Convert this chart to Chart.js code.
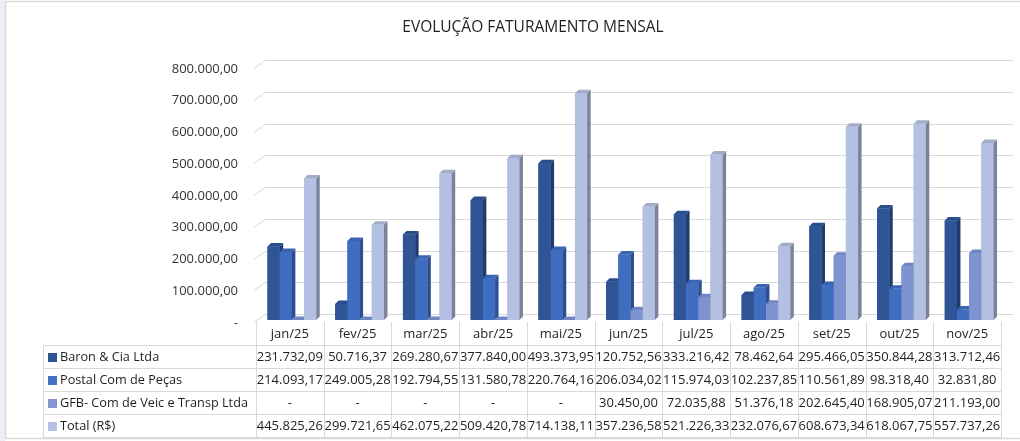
<!DOCTYPE html>
<html><head><meta charset="utf-8">
<script src="https://cdn.jsdelivr.net/npm/chart.js@4"></script>
<style>html,body{margin:0;padding:0;background:#fff;overflow:hidden}#wrap{position:relative;width:1020px;height:441px}</style>
</head><body><div id="wrap"><canvas id="c" width="1020" height="441"></canvas></div>
<script>
const title = 'EVOLUÇÃO FATURAMENTO MENSAL';
const categories = ['jan/25','fev/25','mar/25','abr/25','mai/25','jun/25','jul/25','ago/25','set/25','out/25','nov/25'];
const seriesNames = ['Baron & Cia Ltda','Postal Com de Peças','GFB- Com de Veic e Transp Ltda','Total (R$)'];
const baron  = [231732.09, 50716.37, 269280.67, 377840.00, 493373.95, 120752.56, 333216.42, 78462.64, 295466.05, 350844.28, 313712.46];
const postal = [214093.17, 249005.28, 192794.55, 131580.78, 220764.16, 206034.02, 115974.03, 102237.85, 110561.89, 98318.40, 32831.80];
const gfb    = [0, 0, 0, 0, 0, 30450.00, 72035.88, 51376.18, 202645.40, 168905.07, 211193.00];
const total  = [445825.26, 299721.65, 462075.22, 509420.78, 714138.11, 357236.58, 521226.33, 232076.67, 608673.34, 618067.75, 557737.26];
const yTicks = [0, 100000, 200000, 300000, 400000, 500000, 600000, 700000, 800000];

const faceColors = [
  {front:'#2F5597', side:'#1F3A6C', top:'#2A4D8C'},
  {front:'#3F6DC0', side:'#2B4F90', top:'#3A64B2'},
  {front:'#7E94D1', side:'#5A6EA3', top:'#7086C2'},
  {front:'#B3C0E1', side:'#7A8399', top:'#A2ADCA'}
];
const legendColors = ['#2F5597','#4472C4','#8497D3','#B4C1E2'];

function fmt(v){
  if(!v) return '-';
  const s = v.toFixed(2);
  let [i,d] = s.split('.');
  i = i.replace(/\B(?=(\d{3})+(?!\d))/g,'.');
  return i + ',' + d;
}

const FONT = '"Open Sans", "Liberation Sans", sans-serif';
const DX = 3.5, DY = 3.5;

const framePlugin = {
  id:'frame',
  beforeDraw(chart){
    const c = chart.ctx;
    c.save();
    c.fillStyle = '#fff'; c.fillRect(0,0,chart.width,chart.height);
    c.fillStyle = '#EEEEF6'; c.fillRect(0,0,5,chart.height);
    c.strokeStyle = '#D9D9D9'; c.lineWidth = 1.5;
    c.beginPath();
    c.moveTo(1020,1.5); c.lineTo(5.5,1.5); c.lineTo(5.5,438.5); c.lineTo(1020,438.5);
    c.stroke();
    c.restore();
  },
  beforeDatasetsDraw(chart){
    const c = chart.ctx, ys = chart.scales.y, a = chart.chartArea;
    c.save();
    c.strokeStyle = '#D9D9D9'; c.lineWidth = 1;
    yTicks.forEach(v => {
      const y = Math.round(ys.getPixelForValue(v)) + 0.5;
      c.beginPath();
      c.moveTo(a.left - 4, y + 2);
      c.lineTo(a.left + 7, y - 6);
      c.lineTo(1013, y - 6);
      c.stroke();
    });
    c.restore();
  },
  afterDatasetsDraw(chart){
    const c = chart.ctx;
    c.save();
    for (let i = 0; i < categories.length; i++) {
      for (let d = 0; d < chart.data.datasets.length; d++) {
        const el = chart.getDatasetMeta(d).data[i];
        if (!el) continue;
        const w = el.width, L = el.x - w/2, R = el.x + w/2, T = el.y, B = el.base;
        const col = faceColors[d];
        c.fillStyle = col.front;
        c.fillRect(L, T, w, B - T);
        c.fillStyle = col.side;
        c.beginPath();
        c.moveTo(R, T); c.lineTo(R + DX, T - DY); c.lineTo(R + DX, B - DY); c.lineTo(R, B); c.closePath();
        c.fill();
        c.fillStyle = col.top;
        c.beginPath();
        c.moveTo(L, T); c.lineTo(L + DX, T - DY); c.lineTo(R + DX, T - DY); c.lineTo(R, T); c.closePath();
        c.fill();
      }
    }
    c.restore();
  },
  afterDraw(chart){
    const c = chart.ctx, xs = chart.scales.x;
    c.save();
    c.fillStyle = '#1F1F1F';
    c.font = '15.5px ' + FONT;
    c.textAlign = 'center'; c.textBaseline = 'middle';
    c.fillText(title, 533, 28);
    const n = categories.length;
    const colW = xs.width / n;
    const x0 = xs.left - 2;
    const tLeft = 43;
    const headTop = 322;
    const rows = [345, 368, 391, 414, 437];
    const xEnd = x0 + colW * n;
    c.strokeStyle = '#D9D9D9'; c.lineWidth = 1;
    c.beginPath();
    for (let k = 0; k <= n; k++) {
      const x = Math.round(x0 + k * colW) + 0.5;
      c.moveTo(x, headTop); c.lineTo(x, rows[rows.length-1]);
    }
    c.moveTo(tLeft + 0.5, rows[0]); c.lineTo(tLeft + 0.5, rows[rows.length-1]);
    rows.forEach(y => { c.moveTo(tLeft, y + 0.5); c.lineTo(xEnd + 1, y + 0.5); });
    c.stroke();
    c.font = '13px ' + FONT;
    c.fillStyle = '#1F1F1F';
    c.textAlign = 'center'; c.textBaseline = 'middle';
    categories.forEach((cat, k) => c.fillText(cat, x0 + (k + 0.5) * colW, (headTop + rows[0]) / 2 + 1));
    const series = [baron, postal, gfb, total];
    series.forEach((arr, r) => {
      const ym = (rows[r] + rows[r+1]) / 2 + 1;
      c.fillStyle = legendColors[r];
      c.fillRect(48, Math.round(ym - 5), 9, 9);
      c.fillStyle = '#1F1F1F';
      c.textAlign = 'left';
      c.font = '12.7px ' + FONT;
      c.fillText(seriesNames[r], 60, ym);
      c.font = '13px ' + FONT;
      c.textAlign = 'center';
      arr.forEach((v, k) => c.fillText(fmt(v), x0 + (k + 0.5) * colW, ym));
    });
    c.restore();
  }
};

new Chart(document.getElementById('c'), {
  type: 'bar',
  data: {
    labels: categories,
    datasets: [
      {label: seriesNames[0], data: baron,  backgroundColor: faceColors[0].front},
      {label: seriesNames[1], data: postal, backgroundColor: faceColors[1].front},
      {label: seriesNames[2], data: gfb,    backgroundColor: faceColors[2].front},
      {label: seriesNames[3], data: total,  backgroundColor: faceColors[3].front}
    ]
  },
  options: {
    responsive: false, animation: false, devicePixelRatio: 1,
    layout: {padding: {left: 0, right: 17, top: 66, bottom: 121}},
    plugins: {legend: {display: false}, tooltip: {enabled: false}, title: {display: false}},
    datasets: {bar: {categoryPercentage: 0.72, barPercentage: 1}},
    scales: {
      x: {display: false, offset: true},
      y: {
        min: 0, max: 800000,
        afterFit(s){ s.width = 258; },
        afterBuildTicks(s){ s.ticks = yTicks.map(v => ({value: v})); },
        grid: {display: false, drawTicks: false},
        border: {display: false},
        ticks: {padding: 20, labelOffset: 3, color: '#333333', font: {family: FONT, size: 13}, callback: v => fmt(v)}
      }
    }
  },
  plugins: [framePlugin]
});
</script>
</body></html>
